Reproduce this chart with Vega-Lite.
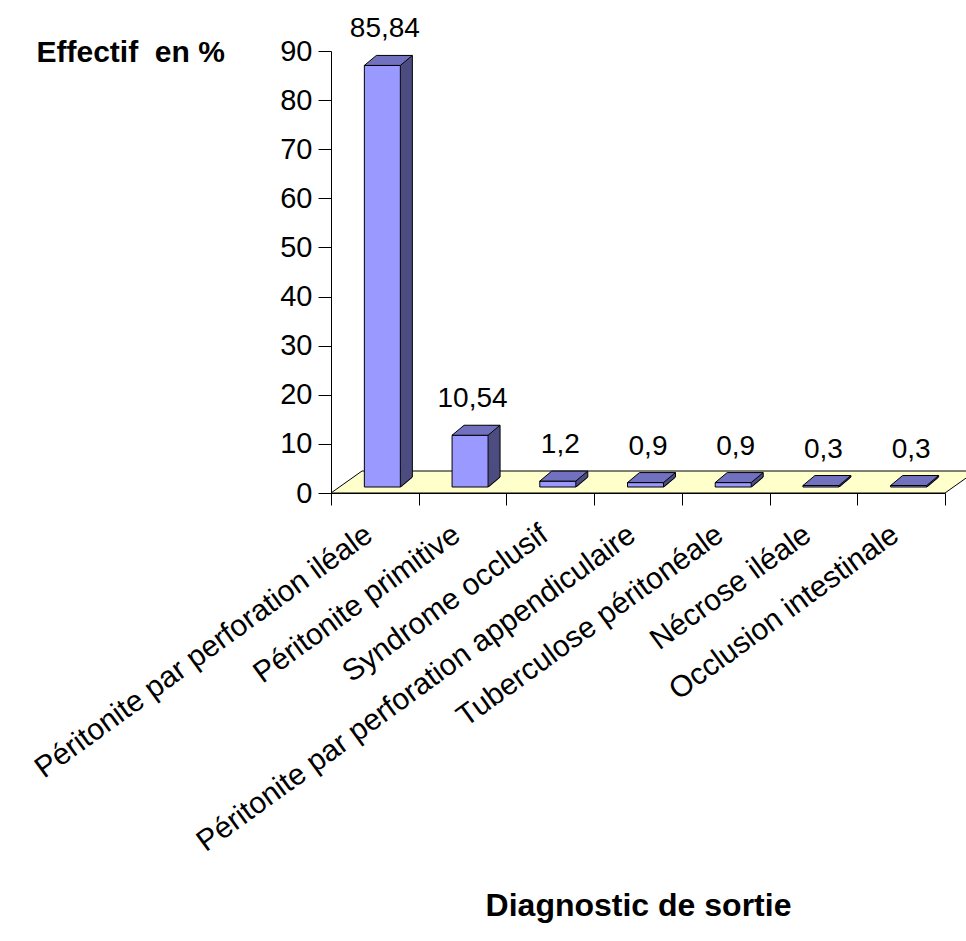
{
  "$schema": "https://vega.github.io/schema/vega-lite/v6.json",
  "width": 614,
  "height": 442,
  "autosize": "none",
  "padding": {"left": 331, "top": 51, "right": 21, "bottom": 448},
  "background": "white",
  "config": {
    "view": {"stroke": null},
    "font": "Liberation Sans",
    "locale": {"number": {"decimal": ",", "thousands": " ", "grouping": [3], "currency": ["", " €"]}}
  },
  "data": {
    "values": [
      {"diagnostic": "Péritonite par perforation iléale", "pct": 85.84},
      {"diagnostic": "Péritonite primitive", "pct": 10.54},
      {"diagnostic": "Syndrome occlusif", "pct": 1.2},
      {"diagnostic": "Péritonite par perforation appendiculaire", "pct": 0.9},
      {"diagnostic": "Tuberculose péritonéale", "pct": 0.9},
      {"diagnostic": "Nécrose iléale", "pct": 0.3},
      {"diagnostic": "Occlusion intestinale", "pct": 0.3}
    ]
  },
  "encoding": {
    "x": {
      "field": "diagnostic",
      "type": "nominal",
      "sort": null,
      "scale": {
        "domain": ["Péritonite par perforation iléale", "Péritonite primitive", "Syndrome occlusif", "Péritonite par perforation appendiculaire", "Tuberculose péritonéale", "Nécrose iléale", "Occlusion intestinale"],
        "paddingInner": 0,
        "paddingOuter": 0
      },
      "axis": {
        "title": "Diagnostic de sortie",
        "titleFontSize": 32,
        "titleFontWeight": "bold",
        "titleColor": "black",
        "titleY": 412,
        "titleBaseline": "middle",
        "labelAngle": -36,
        "labelAlign": "right",
        "labelBaseline": "top",
        "labelFontSize": 30,
        "labelColor": "black",
        "labelLimit": 1000,
        "labelOverlap": false,
        "labelOffset": -15,
        "labelPadding": 14,
        "tickBand": "extent",
        "tickSize": 12,
        "tickColor": "black",
        "domainColor": "black",
        "grid": false,
        "zindex": 1
      }
    },
    "y": {
      "field": "pct",
      "type": "quantitative",
      "scale": {"domain": [0, 90], "nice": false},
      "axis": {
        "values": [0, 10, 20, 30, 40, 50, 60, 70, 80, 90],
        "tickSize": 13,
        "tickColor": "black",
        "domainColor": "black",
        "labelFontSize": 29,
        "labelColor": "black",
        "labelPadding": 6,
        "grid": false,
        "title": "Effectif\u00a0 en %",
        "titleAngle": 0,
        "titleAlign": "left",
        "titleBaseline": "middle",
        "titleX": -295,
        "titleY": 1,
        "titleFontSize": 30,
        "titleFontWeight": "bold",
        "titleColor": "black",
        "zindex": 1
      }
    }
  },
  "layer": [
    {
      "description": "floor of the 3D box, anchored on the first category at zero",
      "transform": [{"filter": {"field": "diagnostic", "equal": "Péritonite par perforation iléale"}}],
      "mark": {"type": "point", "shape": "M-43.86,0 L570.14,0 L601.14,-22 L-12.86,-22 Z", "size": 4, "filled": true, "fill": "#FFFFCC", "stroke": "black", "strokeWidth": 1, "opacity": 1},
      "encoding": {"y": {"datum": 0, "type": "quantitative"}}
    },
    {
      "description": "side face fill",
      "mark": {"type": "bar", "width": 12, "xOffset": 31.5, "yOffset": -16, "y2Offset": -6, "fill": "#4C4C80", "strokeWidth": 0},
      "encoding": {"y2": {"datum": 0}}
    },
    {
      "description": "floor patch under the slanted bottom of the side face",
      "mark": {"type": "point", "shape": "M26,-5.4 L38.6,-5.4 L38.6,-16.3 Z", "size": 4, "filled": true, "fill": "#FFFFCC", "strokeWidth": 0, "opacity": 1},
      "encoding": {"y": {"datum": 0, "type": "quantitative"}}
    },
    {
      "description": "front face",
      "mark": {"type": "bar", "width": 36, "xOffset": 7.5, "yOffset": -6, "y2Offset": -6, "fill": "#9999FF", "stroke": "black", "strokeWidth": 1},
      "encoding": {"y2": {"datum": 0}}
    },
    {
      "description": "back edge of the side face",
      "mark": {"type": "rule", "xOffset": 37.5, "yOffset": -16, "y2Offset": -16, "color": "black", "strokeWidth": 1},
      "encoding": {"y2": {"datum": 0}}
    },
    {
      "description": "slanted bottom edge of the side face",
      "mark": {"type": "point", "shape": "M25.5,-6 L37.5,-16", "size": 4, "filled": false, "stroke": "black", "strokeWidth": 1, "opacity": 1},
      "encoding": {"y": {"datum": 0, "type": "quantitative"}}
    },
    {
      "description": "top face",
      "mark": {"type": "point", "shape": "M-10.5,-6 L25.5,-6 L37.5,-16 L1.5,-16 Z", "size": 4, "filled": true, "fill": "#7171C0", "stroke": "black", "strokeWidth": 1, "opacity": 1}
    },
    {
      "description": "value labels",
      "mark": {"type": "text", "fontSize": 28, "dx": 10, "dy": -42, "align": "center", "baseline": "middle", "color": "black"},
      "encoding": {"text": {"field": "pct", "type": "quantitative"}}
    }
  ]
}
